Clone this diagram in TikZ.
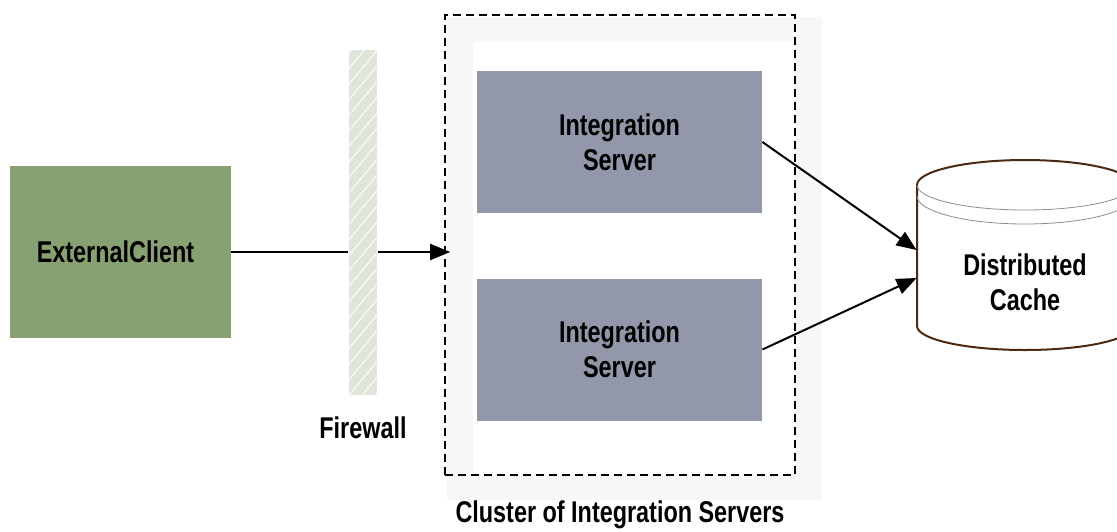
\documentclass[tikz,border=0pt]{standalone}
\usepackage{fontspec}
\setmainfont{Liberation Sans}[FakeStretch=0.78]
\usepackage{tikz}
\usepackage{xcolor}
\usetikzlibrary{positioning, arrows.meta, patterns.meta}

\definecolor{clientgreen}{HTML}{87A173}
\definecolor{servergray}{HTML}{9298AA}
\definecolor{wallgray}{HTML}{E0E5DA}
\definecolor{cachebrown}{HTML}{4A2A12}

\tikzset{
    box/.style={rectangle, inner sep=0pt, align=center, font=\bfseries\fontsize{15}{17.5}\selectfont},
    client/.style={box, fill=clientgreen, minimum width=110.5pt, minimum height=86pt},
    server/.style={box, fill=servergray, minimum width=142.5pt, minimum height=71pt},
    wall/.style={rectangle, inner sep=0pt, minimum width=14pt, minimum height=172.5pt,
        preaction={fill=wallgray}, pattern={Lines[angle=50, distance=5pt, line width=0.6pt]}, pattern color=white!80!wallgray},
    lbl/.style={font=\bfseries\fontsize{15}{17.5}\selectfont},
    flow/.style={line width=1pt, -{Triangle[length=10pt, width=8pt]}}
}

\begin{document}
\begin{tikzpicture}[x=0.5pt, y=-0.5pt]
        \useasboundingbox (0,0) rectangle (1117,531);

        % soft shadow round the cluster
        \fill[black!3] (447,17) rectangle (822,500);
        \fill[white] (473,42) rectangle (795,475);

        \node[client] (client) at (120.5,252) {ExternalClient\hspace*{5pt}};
        \node[wall, label={[lbl, label distance=7pt]below:Firewall}] (fw) at (363,222.5) {};
        \node[rectangle, draw, line width=0.8pt, dash pattern=on 4pt off 2.5pt,
            minimum width=175pt, minimum height=230pt,
            label={[lbl, label distance=9pt]below:Cluster of Integration Servers}] (cluster) at (620,245) {};
        \node[server] (srv1) at (619.5,142) {Integration\\Server};
        \node[server] (srv2) at (619.5,349.5) {Integration\\Server};

        % distributed cache drum
        \draw[cachebrown, line width=1pt, fill=white]
            (917,185) -- (917,326) arc[start angle=180, end angle=360, x radius=54pt, y radius=12pt]
            -- (1133,185) arc[start angle=0, end angle=180, x radius=54pt, y radius=12.5pt];
        \draw[black!45, line width=0.4pt] (917,185) arc[start angle=180, end angle=360, x radius=54pt, y radius=12.5pt];
        \draw[black!45, line width=0.4pt] (917,196) arc[start angle=180, end angle=360, x radius=54pt, y radius=14pt];
        \node[box, minimum width=108pt, minimum height=70pt] (cache) at (1025,282) {Distributed\\Cache};

        \draw[line width=1pt] (client.east) -- (client -| fw.west);
        \draw[flow] (client -| fw.east) -- ([xshift=3pt]client -| cluster.west);
        \draw[flow] (srv1.east) -- ([yshift=16pt]cache.west);
        \draw[flow] (srv2.east) -- ([yshift=2pt]cache.west);
    \end{tikzpicture}
\end{document}
